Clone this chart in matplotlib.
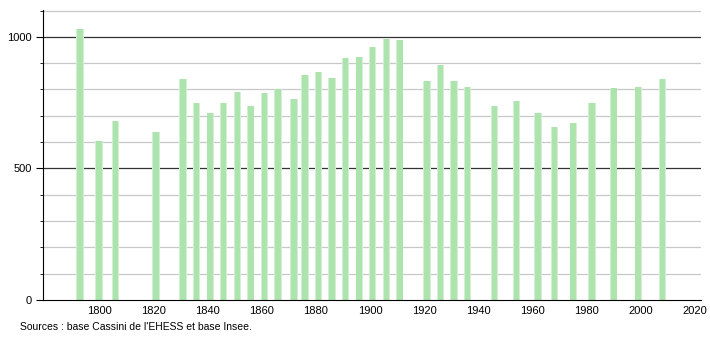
import matplotlib
matplotlib.use("Agg")
import matplotlib.pyplot as plt
from matplotlib.ticker import MultipleLocator

plt.rcParams['font.family'] = ['Liberation Sans', 'DejaVu Sans']

# census years and population
years = [1793, 1800, 1806, 1821, 1831, 1836, 1841, 1846, 1851, 1856,
         1861, 1866, 1872, 1876, 1881, 1886, 1891, 1896, 1901, 1906,
         1911, 1921, 1926, 1931, 1936, 1946, 1954, 1962, 1968, 1975,
         1982, 1990, 1999, 2008]
pop = [1030, 604, 680, 640, 840, 749, 712, 749, 791, 738,
       787, 802, 764, 855, 868, 844, 920, 924, 962, 992,
       988, 833, 893, 833, 810, 738, 757, 711, 659, 672,
       748, 806, 810, 840]

xticks = list(range(1800, 2021, 20))
yticks = [0, 500, 1000]
source = "Sources : base Cassini de l'EHESS et base Insee."

fig = plt.figure(figsize=(7.1, 3.4), dpi=100)
ax = fig.add_axes([0.0606, 0.1176, 0.9268, 0.853])

# soft-edged bars: a lighter wide bar under a narrower core
ax.bar(years, pop, width=2.7, color='#d4f0d4', zorder=3)
ax.bar(years, pop, width=2.0, color='#ade3ad', zorder=4)

for v in range(100, 1101, 100):
    if v % 500 == 0:
        ax.axhline(v, color='#333333', lw=0.9, zorder=2)
    else:
        ax.axhline(v, color='#c8c8c8', lw=0.9, zorder=1)

ax.set_xlim(1779.3, 2022.2)
ax.set_ylim(0, 1102)
ax.set_xticks(xticks)
ax.set_yticks(yticks)
ax.yaxis.set_minor_locator(MultipleLocator(100))
ax.tick_params(axis='x', length=0, labelsize=8, pad=4)
ax.tick_params(axis='y', which='major', length=5, labelsize=8, pad=3)
ax.tick_params(axis='y', which='minor', length=2, direction='out', color='black')

for s in ['top', 'right']:
    ax.spines[s].set_visible(False)
ax.spines['left'].set_color('black')
ax.spines['bottom'].set_color('black')
ax.spines['left'].set_zorder(5)
ax.spines['bottom'].set_zorder(5)

fig.text(0.028, 0.038, source, fontsize=7.5, ha='left', va='center')

fig.savefig('out.png', dpi=100)
